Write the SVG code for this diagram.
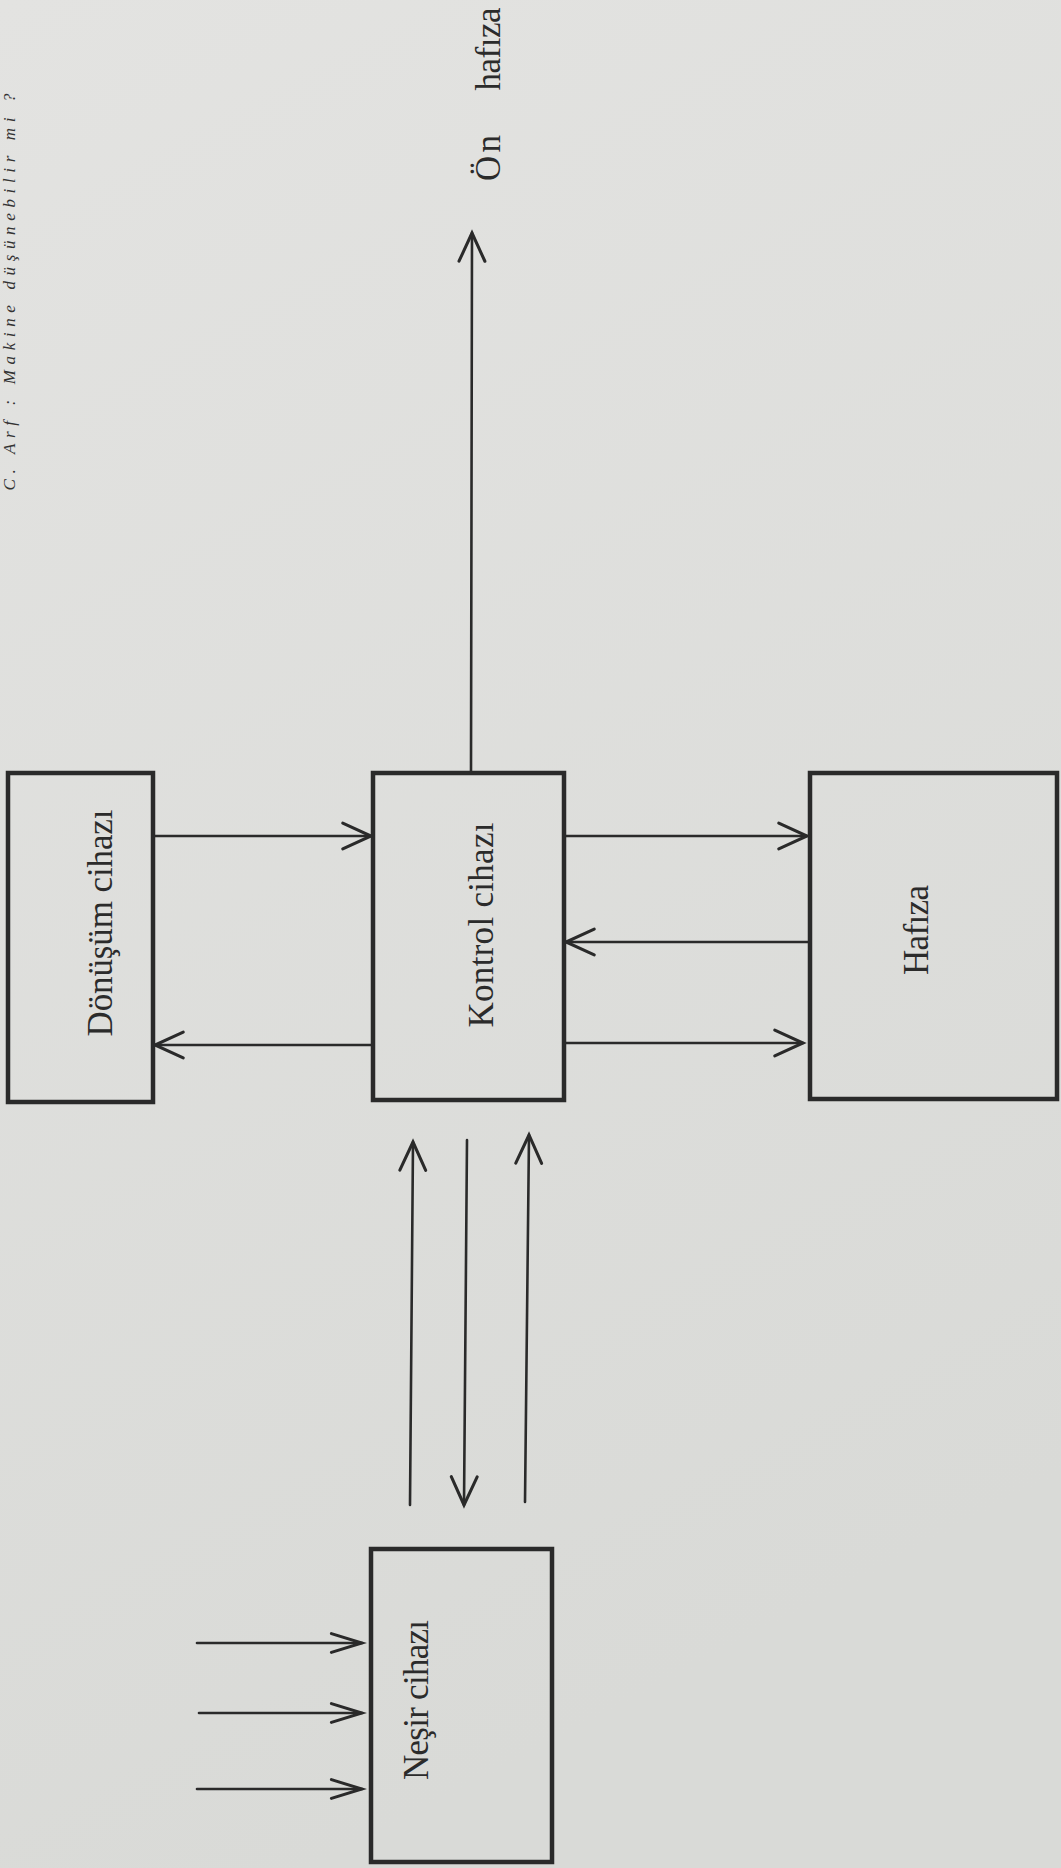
<svg xmlns="http://www.w3.org/2000/svg" width="1061" height="1868" viewBox="0 0 1061 1868">
<style>
.box{fill:none;stroke:#2a2a2a;stroke-width:4.5}
.ln{fill:none;stroke:#2a2a2a;stroke-width:2.6;stroke-linecap:round}
.lbl{font-family:"Liberation Serif","DejaVu Serif",serif;font-size:35px;fill:#2b2b2b;text-anchor:middle}
.hdr{font-family:"Liberation Serif","DejaVu Serif",serif;font-size:17px;font-style:italic;fill:#333333;text-anchor:middle}
</style>
<defs>
<linearGradient id="paper" x1="0" y1="0" x2="0.3" y2="1">
<stop offset="0" stop-color="#e3e3e1"/>
<stop offset="1" stop-color="#d9dad7"/>
</linearGradient>
<marker id="ah" markerUnits="userSpaceOnUse" markerWidth="40" markerHeight="40" refX="0" refY="0" viewBox="-30 -15 34 30" orient="auto">
<path d="M -24 -11 L 0 0 L -24 11" fill="none" stroke="#2a2a2a" stroke-width="2.6" stroke-linecap="round" stroke-linejoin="miter"/>
</marker>
<marker id="ahn" markerUnits="userSpaceOnUse" markerWidth="40" markerHeight="40" refX="0" refY="0" viewBox="-30 -15 34 30" orient="auto">
<path d="M -26 -8 L 0 0 L -26 8" fill="none" stroke="#2a2a2a" stroke-width="2.6" stroke-linecap="round" stroke-linejoin="miter"/>
</marker>
</defs>
<rect x="0" y="0" width="1061" height="1868" fill="url(#paper)"/>

<g id="header">
<text class="hdr" transform="translate(15,292) rotate(-90)" textLength="397" lengthAdjust="spacing">C. Arf : Makine düşünebilir mi ?</text>
</g>

<g id="connectors">
<line class="ln" x1="153" y1="836" x2="371" y2="836" marker-end="url(#ah)"/>
<line class="ln" x1="372" y1="1045" x2="155" y2="1045" marker-end="url(#ah)"/>
<line class="ln" x1="566" y1="836" x2="807" y2="836" marker-end="url(#ah)"/>
<line class="ln" x1="808" y1="942" x2="566" y2="942" marker-end="url(#ah)"/>
<line class="ln" x1="566" y1="1043" x2="803" y2="1043" marker-end="url(#ah)"/>
<line class="ln" x1="471" y1="771" x2="472" y2="233" marker-end="url(#ah)"/>
<line class="ln" x1="410" y1="1505" x2="413" y2="1142" marker-end="url(#ah)"/>
<line class="ln" x1="467" y1="1140" x2="464" y2="1505" marker-end="url(#ah)"/>
<line class="ln" x1="525" y1="1502" x2="529" y2="1135" marker-end="url(#ah)"/>
<line class="ln" x1="197" y1="1643" x2="362" y2="1643" marker-end="url(#ahn)"/>
<line class="ln" x1="199" y1="1713" x2="362" y2="1713" marker-end="url(#ahn)"/>
<line class="ln" x1="197" y1="1789" x2="362" y2="1789" marker-end="url(#ahn)"/>
</g>

<g id="donusum">
<rect class="box" x="8" y="773" width="145" height="329"/>
<text class="lbl" transform="translate(112,923) rotate(-90)" textLength="227" lengthAdjust="spacing">Dönüşüm cihazı</text>
</g>

<g id="kontrol">
<rect class="box" x="373" y="773" width="191" height="327"/>
<text class="lbl" transform="translate(493,925) rotate(-90)" textLength="205" lengthAdjust="spacing">Kontrol cihazı</text>
</g>

<g id="hafiza">
<rect class="box" x="810" y="773" width="247" height="326"/>
<text class="lbl" transform="translate(928,930) rotate(-90)" textLength="90" lengthAdjust="spacing">Hafıza</text>
</g>

<g id="nesir">
<rect class="box" x="371" y="1549" width="181" height="313"/>
<text class="lbl" transform="translate(428,1700) rotate(-90)" textLength="160" lengthAdjust="spacing">Neşir cihazı</text>
</g>

<g id="onhafiza">
<text class="lbl" transform="translate(500,158) rotate(-90)" textLength="46" lengthAdjust="spacing">Ön</text>
<text class="lbl" transform="translate(500,49) rotate(-90)" textLength="83" lengthAdjust="spacing">hafıza</text>
</g>
</svg>
